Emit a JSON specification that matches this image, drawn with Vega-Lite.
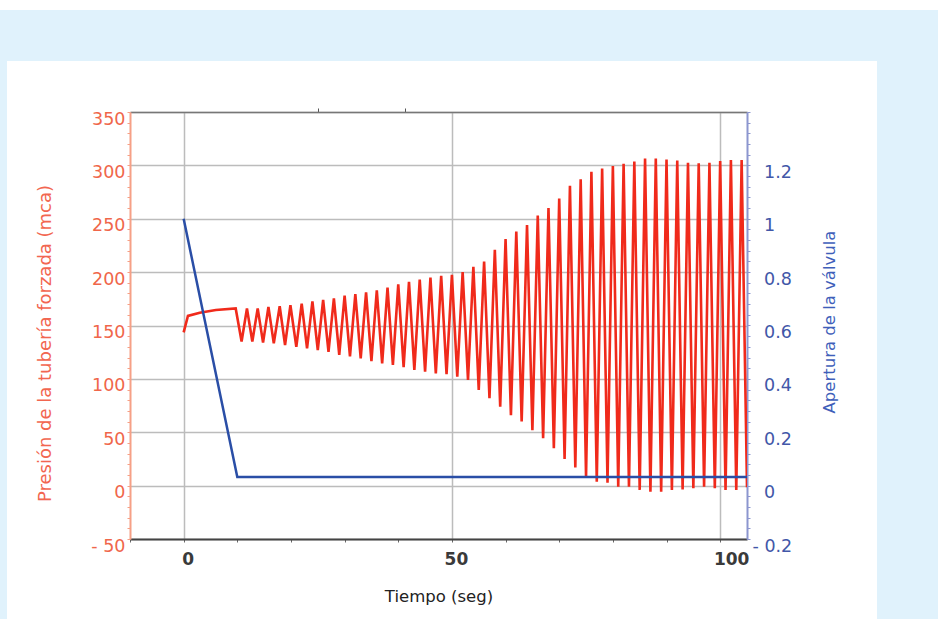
{
  "$schema": "https://vega.github.io/schema/vega-lite/v6.json",
  "background": "white",
  "padding": {"top": 10, "left": 0, "right": 0, "bottom": 0},
  "config": {"font": "DejaVu Sans", "view": {"stroke": null}},
  "datasets": {
    "presion": [
      {"t": 0, "p": 143.6}, {"t": 0.8, "p": 159}, {"t": 3, "p": 162}, {"t": 6, "p": 164.5}, {"t": 9.7, "p": 166},
      {"t": 10.8, "p": 135}, {"t": 11.8, "p": 166}, {"t": 12.8, "p": 135}, {"t": 13.8, "p": 166},
      {"t": 14.8, "p": 134}, {"t": 15.8, "p": 167.5}, {"t": 16.8, "p": 133.3}, {"t": 17.9, "p": 168},
      {"t": 18.9, "p": 131.7}, {"t": 19.9, "p": 169}, {"t": 21, "p": 130}, {"t": 22, "p": 170.5},
      {"t": 23, "p": 128.6}, {"t": 24, "p": 172.5}, {"t": 25, "p": 127}, {"t": 26, "p": 174},
      {"t": 27, "p": 125.4}, {"t": 28, "p": 175.5}, {"t": 29, "p": 122.5}, {"t": 30, "p": 178},
      {"t": 31, "p": 121}, {"t": 32, "p": 179.5}, {"t": 33, "p": 119.2}, {"t": 34, "p": 181},
      {"t": 35, "p": 116.5}, {"t": 36, "p": 183}, {"t": 37, "p": 114.5}, {"t": 38, "p": 185.5},
      {"t": 39, "p": 113}, {"t": 40, "p": 188.5}, {"t": 41, "p": 111}, {"t": 42, "p": 191},
      {"t": 43, "p": 108.5}, {"t": 44, "p": 193}, {"t": 45, "p": 106.7}, {"t": 46, "p": 195},
      {"t": 47, "p": 105.2}, {"t": 48, "p": 196.5}, {"t": 49, "p": 104.5}, {"t": 50, "p": 197.5},
      {"t": 51, "p": 102}, {"t": 52, "p": 200}, {"t": 53, "p": 99}, {"t": 54, "p": 205},
      {"t": 55, "p": 89.6}, {"t": 56, "p": 210}, {"t": 57, "p": 81.8}, {"t": 58, "p": 221},
      {"t": 59, "p": 74}, {"t": 60, "p": 231}, {"t": 61, "p": 66}, {"t": 62, "p": 238},
      {"t": 63, "p": 60}, {"t": 64, "p": 244}, {"t": 65, "p": 52}, {"t": 66, "p": 253},
      {"t": 67, "p": 44.3}, {"t": 68, "p": 260}, {"t": 69, "p": 35}, {"t": 70, "p": 269},
      {"t": 71, "p": 25}, {"t": 72, "p": 281}, {"t": 73, "p": 17}, {"t": 74, "p": 287},
      {"t": 75, "p": 8.3}, {"t": 76, "p": 294}, {"t": 77, "p": 3.7}, {"t": 78, "p": 297},
      {"t": 79, "p": 2.7}, {"t": 80, "p": 299.5}, {"t": 81, "p": -1}, {"t": 82, "p": 301.5},
      {"t": 83, "p": -1}, {"t": 84, "p": 303.5}, {"t": 85, "p": -4}, {"t": 86, "p": 306.5},
      {"t": 87, "p": -5.7}, {"t": 88, "p": 306.5}, {"t": 89, "p": -5.7}, {"t": 90, "p": 305.5},
      {"t": 91, "p": -4}, {"t": 92, "p": 304.5}, {"t": 93, "p": -3.5}, {"t": 94, "p": 302.5},
      {"t": 95, "p": -2.5}, {"t": 96, "p": 302}, {"t": 97, "p": -1}, {"t": 98, "p": 302.5},
      {"t": 99, "p": -2.5}, {"t": 100, "p": 304}, {"t": 101, "p": -4}, {"t": 102, "p": 305},
      {"t": 103, "p": -4}, {"t": 104, "p": 305}, {"t": 105, "p": -1.5}
    ],
    "valvula": [
      {"t": 0, "v": 1}, {"t": 10, "v": 0.032}, {"t": 105, "v": 0.032}
    ]
  },
  "columns": 3,
  "align": "each",
  "bounds": "flush",
  "center": {"row": false, "column": true},
  "spacing": {"row": 0, "column": 0},
  "concat": [
    {"width": 7, "height": 51, "data": {"values": []}, "mark": "point", "view": {"fill": "#e0f2fc", "stroke": null}},
    {"width": 870, "height": 51, "data": {"values": []}, "mark": "point", "view": {"fill": "#e0f2fc", "stroke": null}},
    {"width": 61, "height": 51, "data": {"values": []}, "mark": "point", "view": {"fill": "#e0f2fc", "stroke": null}},
    {"width": 7, "height": 51, "data": {"values": []}, "mark": "point", "view": {"fill": "#e0f2fc", "stroke": null}},
    {"width": 870, "height": 51, "data": {"values": []}, "mark": "point", "view": {"fill": null, "stroke": null}},
    {"width": 61, "height": 51, "data": {"values": []}, "mark": "point", "view": {"fill": "#e0f2fc", "stroke": null}},
    {"width": 7, "height": 507, "data": {"values": []}, "mark": "point", "view": {"fill": "#e0f2fc", "stroke": null}},
    {
      "width": 617,
      "height": 427,
      "view": {"stroke": null},
      "layer": [
        {
          "data": {"name": "presion"},
          "mark": {"type": "line", "color": "#f02a1b", "strokeWidth": 2.6, "clip": true},
          "encoding": {
            "x": {
              "field": "t", "type": "quantitative",
              "scale": {"domain": [-10, 105], "nice": false, "zero": false},
              "axis": {
                "orient": "bottom",
                "values": [-10, 0, 10, 20, 30, 40, 50, 60, 70, 80, 90, 100],
                "labelExpr": "datum.value % 50 === 0 ? '' + datum.value : ''",
                "labelFontSize": 17, "labelFontWeight": "bold", "labelColor": "#3a3a3a",
                "labelPadding": 9, "labelFlush": false, "labelOverlap": false,
                "labelOffset": {"condition": {"test": "datum.value === 100", "value": 11}, "value": 4},
                "tickColor": "#666666", "tickSize": 3, "domainColor": "#444444", "domainWidth": 2,
                "grid": true, "gridColor": "#bcbcbc", "gridWidth": 1.5,
                "gridOpacity": {"condition": {"test": "datum.value % 50 === 0", "value": 1}, "value": 0},
                "title": "Tiempo (seg)", "titleFontSize": 16.5, "titleFontWeight": "normal",
                "titleColor": "#222222", "titlePadding": 21
              }
            },
            "y": {
              "field": "p", "type": "quantitative",
              "scale": {"domain": [-50, 350], "nice": false, "zero": false},
              "axis": {
                "orient": "left",
                "values": [-50, -40, -30, -20, -10, 0, 10, 20, 30, 40, 50, 60, 70, 80, 90, 100, 110, 120, 130, 140, 150, 160, 170, 180, 190, 200, 210, 220, 230, 240, 250, 260, 270, 280, 290, 300, 310, 320, 330, 340, 350],
                "labelExpr": "datum.value % 50 === 0 ? (datum.value < 0 ? '- ' + (-datum.value) : '' + datum.value) : ''",
                "labelFontSize": 17.5, "labelColor": "#f0664a", "labelPadding": 2, "labelOffset": 7,
                "labelOverlap": false, "labelFlush": false,
                "tickColor": "#f6a086", "tickSize": 3, "domainColor": "#f6a086", "domainWidth": 2,
                "grid": true, "gridColor": "#bcbcbc", "gridWidth": 1.5,
                "gridOpacity": {"condition": {"test": "datum.value % 50 === 0", "value": 1}, "value": 0},
                "title": "Presión de la tubería forzada (mca)", "titleFontSize": 18, "titleFontWeight": "normal",
                "titleColor": "#f26650", "titleAngle": 270, "titleX": -85, "titleY": 231,
                "titleAlign": "center", "titleBaseline": "middle"
              }
            }
          }
        },
        {
          "data": {"name": "valvula"},
          "mark": {"type": "line", "color": "#2a4ea6", "strokeWidth": 2.5, "clip": true},
          "encoding": {
            "x": {
              "field": "t", "type": "quantitative",
              "axis": {
                "orient": "top", "values": [25.1, 41.3], "labels": false, "tickSize": 4,
                "tickColor": "#555555", "domainColor": "#777777", "domainWidth": 1.5,
                "grid": false, "title": null
              }
            },
            "y": {
              "field": "v", "type": "quantitative",
              "scale": {"domain": [-0.2, 1.4], "nice": false, "zero": false},
              "axis": {
                "orient": "right",
                "values": [-0.2, -0.16, -0.12, -0.08, -0.04, 0, 0.04, 0.08, 0.12, 0.16, 0.2, 0.24, 0.28, 0.32, 0.36, 0.4, 0.44, 0.48, 0.52, 0.56, 0.6, 0.64, 0.68, 0.72, 0.76, 0.8, 0.84, 0.88, 0.92, 0.96, 1, 1.04, 1.08, 1.12, 1.16, 1.2, 1.24, 1.28, 1.32, 1.36, 1.4],
                "labelExpr": "abs(datum.value * 5 - round(datum.value * 5)) < 0.001 && datum.value < 1.3 ? (datum.value < 0 ? '- ' + format(-datum.value, '.1~f') : format(datum.value, '.1~f')) : ''",
                "labelFontSize": 17.5, "labelColor": "#4257a8",
                "labelPadding": {"condition": {"test": "datum.value < -0.1", "value": 2}, "value": 13.5},
                "labelOffset": 7, "labelOverlap": false, "labelFlush": false,
                "tickColor": "#8c96cf", "tickSize": 3, "domainColor": "#8c96cf", "domainWidth": 2,
                "grid": false,
                "title": "Apertura de la válvula", "titleFontSize": 16.5, "titleFontWeight": "normal",
                "titleColor": "#3f5fba", "titleAngle": 270, "titleX": 82, "titleY": 209.5,
                "titleAlign": "center", "titleBaseline": "middle"
              }
            }
          }
        }
      ],
      "resolve": {"scale": {"y": "independent"}, "axis": {"x": "independent", "y": "independent"}}
    },
    {"width": 61, "height": 507, "data": {"values": []}, "mark": "point", "view": {"fill": "#e0f2fc", "stroke": null}}
  ]
}
